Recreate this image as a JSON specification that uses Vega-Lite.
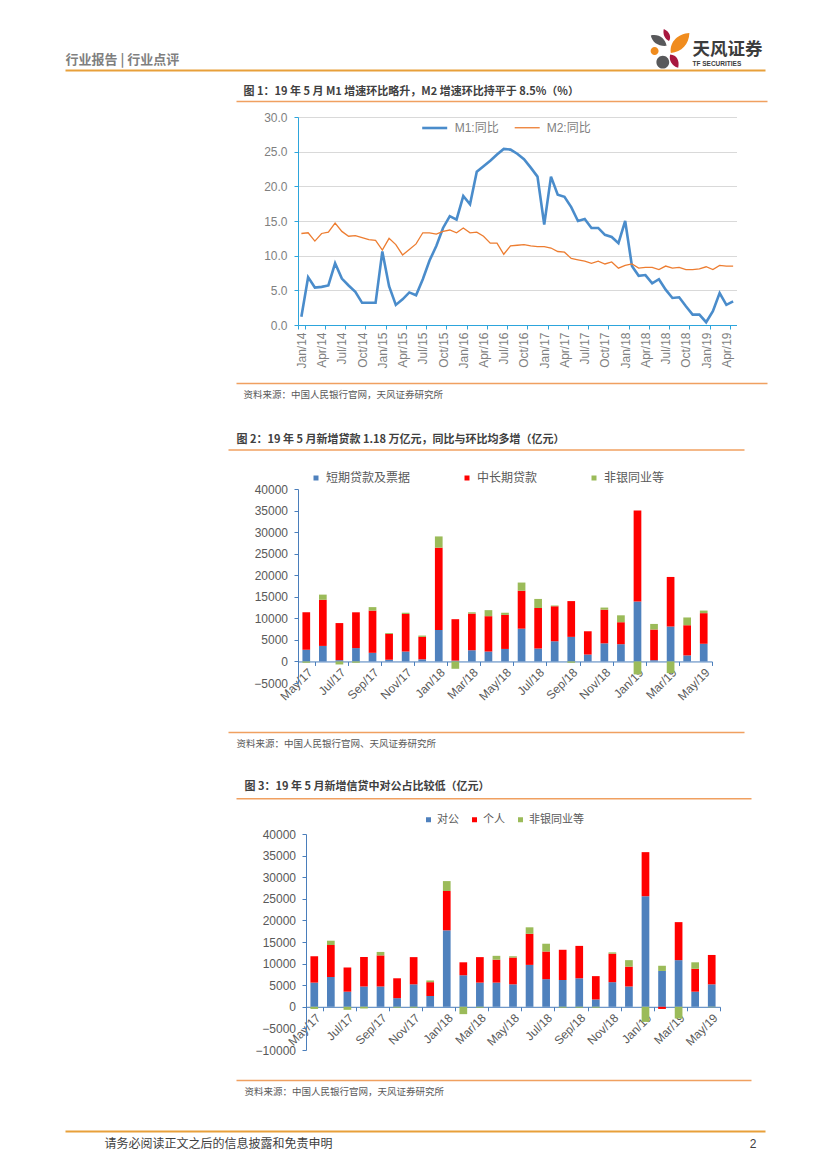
{
  "$schema": "https://vega.github.io/schema/vega-lite/v6.json",
  "background": "white",
  "padding": {"left": 65, "top": 28, "right": 10, "bottom": 10},
  "spacing": 0,
  "bounds": "flush",
  "resolve": {
    "scale": {"color": "independent", "strokeWidth": "independent"},
    "legend": {"color": "independent", "strokeWidth": "independent"}
  },
  "config": {
    "view": {"stroke": null},
    "axis": {"labelFont": "Liberation Sans", "titleFont": "Noto Sans CJK SC", "domainWidth": 1, "labelOverlap": false},
    "legend": {"labelFont": "Noto Sans CJK SC", "padding": 0}
  },
  "datasets": {
    "m": [
      {"m": "Jan/14", "s": "M1:同比", "v": 1.2}, {"m": "Feb/14", "s": "M1:同比", "v": 6.9}, {"m": "Mar/14", "s": "M1:同比", "v": 5.4}, {"m": "Apr/14", "s": "M1:同比", "v": 5.5}, {"m": "May/14", "s": "M1:同比", "v": 5.7}, {"m": "Jun/14", "s": "M1:同比", "v": 8.9}, {"m": "Jul/14", "s": "M1:同比", "v": 6.7}, {"m": "Aug/14", "s": "M1:同比", "v": 5.7}, {"m": "Sep/14", "s": "M1:同比", "v": 4.8}, {"m": "Oct/14", "s": "M1:同比", "v": 3.2}, {"m": "Nov/14", "s": "M1:同比", "v": 3.2}, {"m": "Dec/14", "s": "M1:同比", "v": 3.2},
      {"m": "Jan/15", "s": "M1:同比", "v": 10.6}, {"m": "Feb/15", "s": "M1:同比", "v": 5.6}, {"m": "Mar/15", "s": "M1:同比", "v": 2.9}, {"m": "Apr/15", "s": "M1:同比", "v": 3.7}, {"m": "May/15", "s": "M1:同比", "v": 4.7}, {"m": "Jun/15", "s": "M1:同比", "v": 4.3}, {"m": "Jul/15", "s": "M1:同比", "v": 6.6}, {"m": "Aug/15", "s": "M1:同比", "v": 9.3}, {"m": "Sep/15", "s": "M1:同比", "v": 11.4}, {"m": "Oct/15", "s": "M1:同比", "v": 14.0}, {"m": "Nov/15", "s": "M1:同比", "v": 15.7}, {"m": "Dec/15", "s": "M1:同比", "v": 15.2},
      {"m": "Jan/16", "s": "M1:同比", "v": 18.6}, {"m": "Feb/16", "s": "M1:同比", "v": 17.4}, {"m": "Mar/16", "s": "M1:同比", "v": 22.1}, {"m": "Apr/16", "s": "M1:同比", "v": 22.9}, {"m": "May/16", "s": "M1:同比", "v": 23.7}, {"m": "Jun/16", "s": "M1:同比", "v": 24.6}, {"m": "Jul/16", "s": "M1:同比", "v": 25.4}, {"m": "Aug/16", "s": "M1:同比", "v": 25.3}, {"m": "Sep/16", "s": "M1:同比", "v": 24.7}, {"m": "Oct/16", "s": "M1:同比", "v": 23.9}, {"m": "Nov/16", "s": "M1:同比", "v": 22.7}, {"m": "Dec/16", "s": "M1:同比", "v": 21.4},
      {"m": "Jan/17", "s": "M1:同比", "v": 14.5}, {"m": "Feb/17", "s": "M1:同比", "v": 21.4}, {"m": "Mar/17", "s": "M1:同比", "v": 18.8}, {"m": "Apr/17", "s": "M1:同比", "v": 18.5}, {"m": "May/17", "s": "M1:同比", "v": 17.0}, {"m": "Jun/17", "s": "M1:同比", "v": 15.0}, {"m": "Jul/17", "s": "M1:同比", "v": 15.3}, {"m": "Aug/17", "s": "M1:同比", "v": 14.0}, {"m": "Sep/17", "s": "M1:同比", "v": 14.0}, {"m": "Oct/17", "s": "M1:同比", "v": 13.0}, {"m": "Nov/17", "s": "M1:同比", "v": 12.7}, {"m": "Dec/17", "s": "M1:同比", "v": 11.8},
      {"m": "Jan/18", "s": "M1:同比", "v": 15.0}, {"m": "Feb/18", "s": "M1:同比", "v": 8.5}, {"m": "Mar/18", "s": "M1:同比", "v": 7.1}, {"m": "Apr/18", "s": "M1:同比", "v": 7.2}, {"m": "May/18", "s": "M1:同比", "v": 6.0}, {"m": "Jun/18", "s": "M1:同比", "v": 6.6}, {"m": "Jul/18", "s": "M1:同比", "v": 5.1}, {"m": "Aug/18", "s": "M1:同比", "v": 3.9}, {"m": "Sep/18", "s": "M1:同比", "v": 4.0}, {"m": "Oct/18", "s": "M1:同比", "v": 2.7}, {"m": "Nov/18", "s": "M1:同比", "v": 1.5}, {"m": "Dec/18", "s": "M1:同比", "v": 1.5},
      {"m": "Jan/19", "s": "M1:同比", "v": 0.4}, {"m": "Feb/19", "s": "M1:同比", "v": 2.0}, {"m": "Mar/19", "s": "M1:同比", "v": 4.6}, {"m": "Apr/19", "s": "M1:同比", "v": 2.9}, {"m": "May/19", "s": "M1:同比", "v": 3.4},
      {"m": "Jan/14", "s": "M2:同比", "v": 13.2}, {"m": "Feb/14", "s": "M2:同比", "v": 13.3}, {"m": "Mar/14", "s": "M2:同比", "v": 12.1}, {"m": "Apr/14", "s": "M2:同比", "v": 13.2}, {"m": "May/14", "s": "M2:同比", "v": 13.4}, {"m": "Jun/14", "s": "M2:同比", "v": 14.7}, {"m": "Jul/14", "s": "M2:同比", "v": 13.5}, {"m": "Aug/14", "s": "M2:同比", "v": 12.8}, {"m": "Sep/14", "s": "M2:同比", "v": 12.9}, {"m": "Oct/14", "s": "M2:同比", "v": 12.6}, {"m": "Nov/14", "s": "M2:同比", "v": 12.3}, {"m": "Dec/14", "s": "M2:同比", "v": 12.2},
      {"m": "Jan/15", "s": "M2:同比", "v": 10.8}, {"m": "Feb/15", "s": "M2:同比", "v": 12.5}, {"m": "Mar/15", "s": "M2:同比", "v": 11.6}, {"m": "Apr/15", "s": "M2:同比", "v": 10.1}, {"m": "May/15", "s": "M2:同比", "v": 10.9}, {"m": "Jun/15", "s": "M2:同比", "v": 11.7}, {"m": "Jul/15", "s": "M2:同比", "v": 13.3}, {"m": "Aug/15", "s": "M2:同比", "v": 13.3}, {"m": "Sep/15", "s": "M2:同比", "v": 13.1}, {"m": "Oct/15", "s": "M2:同比", "v": 13.5}, {"m": "Nov/15", "s": "M2:同比", "v": 13.7}, {"m": "Dec/15", "s": "M2:同比", "v": 13.3},
      {"m": "Jan/16", "s": "M2:同比", "v": 14.0}, {"m": "Feb/16", "s": "M2:同比", "v": 13.3}, {"m": "Mar/16", "s": "M2:同比", "v": 13.4}, {"m": "Apr/16", "s": "M2:同比", "v": 12.8}, {"m": "May/16", "s": "M2:同比", "v": 11.8}, {"m": "Jun/16", "s": "M2:同比", "v": 11.8}, {"m": "Jul/16", "s": "M2:同比", "v": 10.2}, {"m": "Aug/16", "s": "M2:同比", "v": 11.4}, {"m": "Sep/16", "s": "M2:同比", "v": 11.5}, {"m": "Oct/16", "s": "M2:同比", "v": 11.6}, {"m": "Nov/16", "s": "M2:同比", "v": 11.4}, {"m": "Dec/16", "s": "M2:同比", "v": 11.3},
      {"m": "Jan/17", "s": "M2:同比", "v": 11.3}, {"m": "Feb/17", "s": "M2:同比", "v": 11.1}, {"m": "Mar/17", "s": "M2:同比", "v": 10.6}, {"m": "Apr/17", "s": "M2:同比", "v": 10.5}, {"m": "May/17", "s": "M2:同比", "v": 9.6}, {"m": "Jun/17", "s": "M2:同比", "v": 9.4}, {"m": "Jul/17", "s": "M2:同比", "v": 9.2}, {"m": "Aug/17", "s": "M2:同比", "v": 8.9}, {"m": "Sep/17", "s": "M2:同比", "v": 9.2}, {"m": "Oct/17", "s": "M2:同比", "v": 8.8}, {"m": "Nov/17", "s": "M2:同比", "v": 9.1}, {"m": "Dec/17", "s": "M2:同比", "v": 8.2},
      {"m": "Jan/18", "s": "M2:同比", "v": 8.6}, {"m": "Feb/18", "s": "M2:同比", "v": 8.8}, {"m": "Mar/18", "s": "M2:同比", "v": 8.2}, {"m": "Apr/18", "s": "M2:同比", "v": 8.3}, {"m": "May/18", "s": "M2:同比", "v": 8.3}, {"m": "Jun/18", "s": "M2:同比", "v": 8.0}, {"m": "Jul/18", "s": "M2:同比", "v": 8.5}, {"m": "Aug/18", "s": "M2:同比", "v": 8.2}, {"m": "Sep/18", "s": "M2:同比", "v": 8.3}, {"m": "Oct/18", "s": "M2:同比", "v": 8.0}, {"m": "Nov/18", "s": "M2:同比", "v": 8.0}, {"m": "Dec/18", "s": "M2:同比", "v": 8.1},
      {"m": "Jan/19", "s": "M2:同比", "v": 8.4}, {"m": "Feb/19", "s": "M2:同比", "v": 8.0}, {"m": "Mar/19", "s": "M2:同比", "v": 8.6}, {"m": "Apr/19", "s": "M2:同比", "v": 8.5}, {"m": "May/19", "s": "M2:同比", "v": 8.5}
    ],
    "loans": [
      {"m": "May/17", "s": "短期贷款及票据", "v": 2700, "o": 1}, {"m": "May/17", "s": "中长期贷款", "v": 8700, "o": 2}, {"m": "May/17", "s": "非银同业等", "v": -300, "o": 3},
      {"m": "Jun/17", "s": "短期贷款及票据", "v": 3600, "o": 1}, {"m": "Jun/17", "s": "中长期贷款", "v": 10700, "o": 2}, {"m": "Jun/17", "s": "非银同业等", "v": 1200, "o": 3},
      {"m": "Jul/17", "s": "短期贷款及票据", "v": 300, "o": 1}, {"m": "Jul/17", "s": "中长期贷款", "v": 8600, "o": 2}, {"m": "Jul/17", "s": "非银同业等", "v": -700, "o": 3},
      {"m": "Aug/17", "s": "短期贷款及票据", "v": 3100, "o": 1}, {"m": "Aug/17", "s": "中长期贷款", "v": 8300, "o": 2}, {"m": "Aug/17", "s": "非银同业等", "v": -300, "o": 3},
      {"m": "Sep/17", "s": "短期贷款及票据", "v": 2000, "o": 1}, {"m": "Sep/17", "s": "中长期贷款", "v": 9800, "o": 2}, {"m": "Sep/17", "s": "非银同业等", "v": 800, "o": 3},
      {"m": "Oct/17", "s": "短期贷款及票据", "v": 400, "o": 1}, {"m": "Oct/17", "s": "中长期贷款", "v": 6000, "o": 2}, {"m": "Oct/17", "s": "非银同业等", "v": 200, "o": 3},
      {"m": "Nov/17", "s": "短期贷款及票据", "v": 2300, "o": 1}, {"m": "Nov/17", "s": "中长期贷款", "v": 8700, "o": 2}, {"m": "Nov/17", "s": "非银同业等", "v": 300, "o": 3},
      {"m": "Dec/17", "s": "短期贷款及票据", "v": 500, "o": 1}, {"m": "Dec/17", "s": "中长期贷款", "v": 5200, "o": 2}, {"m": "Dec/17", "s": "非银同业等", "v": 300, "o": 3},
      {"m": "Jan/18", "s": "短期贷款及票据", "v": 7300, "o": 1}, {"m": "Jan/18", "s": "中长期贷款", "v": 19100, "o": 2}, {"m": "Jan/18", "s": "非银同业等", "v": 2600, "o": 3},
      {"m": "Feb/18", "s": "短期贷款及票据", "v": 200, "o": 1}, {"m": "Feb/18", "s": "中长期贷款", "v": 9600, "o": 2}, {"m": "Feb/18", "s": "非银同业等", "v": -1700, "o": 3},
      {"m": "Mar/18", "s": "短期贷款及票据", "v": 2600, "o": 1}, {"m": "Mar/18", "s": "中长期贷款", "v": 8500, "o": 2}, {"m": "Mar/18", "s": "非银同业等", "v": 300, "o": 3},
      {"m": "Apr/18", "s": "短期贷款及票据", "v": 2300, "o": 1}, {"m": "Apr/18", "s": "中长期贷款", "v": 8200, "o": 2}, {"m": "Apr/18", "s": "非银同业等", "v": 1400, "o": 3},
      {"m": "May/18", "s": "短期贷款及票据", "v": 2900, "o": 1}, {"m": "May/18", "s": "中长期贷款", "v": 7900, "o": 2}, {"m": "May/18", "s": "非银同业等", "v": 500, "o": 3},
      {"m": "Jun/18", "s": "短期贷款及票据", "v": 7600, "o": 1}, {"m": "Jun/18", "s": "中长期贷款", "v": 8800, "o": 2}, {"m": "Jun/18", "s": "非银同业等", "v": 1900, "o": 3},
      {"m": "Jul/18", "s": "短期贷款及票据", "v": 3000, "o": 1}, {"m": "Jul/18", "s": "中长期贷款", "v": 9400, "o": 2}, {"m": "Jul/18", "s": "非银同业等", "v": 2100, "o": 3},
      {"m": "Aug/18", "s": "短期贷款及票据", "v": 4700, "o": 1}, {"m": "Aug/18", "s": "中长期贷款", "v": 8100, "o": 2}, {"m": "Aug/18", "s": "非银同业等", "v": 200, "o": 3},
      {"m": "Sep/18", "s": "短期贷款及票据", "v": 5700, "o": 1}, {"m": "Sep/18", "s": "中长期贷款", "v": 8300, "o": 2}, {"m": "Sep/18", "s": "非银同业等", "v": -300, "o": 3},
      {"m": "Oct/18", "s": "短期贷款及票据", "v": 1600, "o": 1}, {"m": "Oct/18", "s": "中长期贷款", "v": 5400, "o": 2}, {"m": "Oct/18", "s": "非银同业等", "v": 0, "o": 3},
      {"m": "Nov/18", "s": "短期贷款及票据", "v": 4200, "o": 1}, {"m": "Nov/18", "s": "中长期贷款", "v": 7800, "o": 2}, {"m": "Nov/18", "s": "非银同业等", "v": 500, "o": 3},
      {"m": "Dec/18", "s": "短期贷款及票据", "v": 4000, "o": 1}, {"m": "Dec/18", "s": "中长期贷款", "v": 5100, "o": 2}, {"m": "Dec/18", "s": "非银同业等", "v": 1600, "o": 3},
      {"m": "Jan/19", "s": "短期贷款及票据", "v": 13900, "o": 1}, {"m": "Jan/19", "s": "中长期贷款", "v": 21100, "o": 2}, {"m": "Jan/19", "s": "非银同业等", "v": -3000, "o": 3},
      {"m": "Feb/19", "s": "短期贷款及票据", "v": 300, "o": 1}, {"m": "Feb/19", "s": "中长期贷款", "v": 7100, "o": 2}, {"m": "Feb/19", "s": "非银同业等", "v": 1300, "o": 3},
      {"m": "Mar/19", "s": "短期贷款及票据", "v": 8100, "o": 1}, {"m": "Mar/19", "s": "中长期贷款", "v": 11500, "o": 2}, {"m": "Mar/19", "s": "非银同业等", "v": -2700, "o": 3},
      {"m": "Apr/19", "s": "短期贷款及票据", "v": 1400, "o": 1}, {"m": "Apr/19", "s": "中长期贷款", "v": 7000, "o": 2}, {"m": "Apr/19", "s": "非银同业等", "v": 1800, "o": 3},
      {"m": "May/19", "s": "短期贷款及票据", "v": 4100, "o": 1}, {"m": "May/19", "s": "中长期贷款", "v": 7100, "o": 2}, {"m": "May/19", "s": "非银同业等", "v": 600, "o": 3}
    ],
    "credit": [
      {"m": "May/17", "s": "对公", "v": 5600, "o": 1}, {"m": "May/17", "s": "个人", "v": 6100, "o": 2}, {"m": "May/17", "s": "非银同业等", "v": -500, "o": 3},
      {"m": "Jun/17", "s": "对公", "v": 6900, "o": 1}, {"m": "Jun/17", "s": "个人", "v": 7400, "o": 2}, {"m": "Jun/17", "s": "非银同业等", "v": 1000, "o": 3},
      {"m": "Jul/17", "s": "对公", "v": 3500, "o": 1}, {"m": "Jul/17", "s": "个人", "v": 5600, "o": 2}, {"m": "Jul/17", "s": "非银同业等", "v": -700, "o": 3},
      {"m": "Aug/17", "s": "对公", "v": 4700, "o": 1}, {"m": "Aug/17", "s": "个人", "v": 6800, "o": 2}, {"m": "Aug/17", "s": "非银同业等", "v": -400, "o": 3},
      {"m": "Sep/17", "s": "对公", "v": 4700, "o": 1}, {"m": "Sep/17", "s": "个人", "v": 7200, "o": 2}, {"m": "Sep/17", "s": "非银同业等", "v": 800, "o": 3},
      {"m": "Oct/17", "s": "对公", "v": 2000, "o": 1}, {"m": "Oct/17", "s": "个人", "v": 4600, "o": 2}, {"m": "Oct/17", "s": "非银同业等", "v": -200, "o": 3},
      {"m": "Nov/17", "s": "对公", "v": 5200, "o": 1}, {"m": "Nov/17", "s": "个人", "v": 6300, "o": 2}, {"m": "Nov/17", "s": "非银同业等", "v": -200, "o": 3},
      {"m": "Dec/17", "s": "对公", "v": 2500, "o": 1}, {"m": "Dec/17", "s": "个人", "v": 3200, "o": 2}, {"m": "Dec/17", "s": "非银同业等", "v": 400, "o": 3},
      {"m": "Jan/18", "s": "对公", "v": 17700, "o": 1}, {"m": "Jan/18", "s": "个人", "v": 9100, "o": 2}, {"m": "Jan/18", "s": "非银同业等", "v": 2300, "o": 3},
      {"m": "Feb/18", "s": "对公", "v": 7300, "o": 1}, {"m": "Feb/18", "s": "个人", "v": 3000, "o": 2}, {"m": "Feb/18", "s": "非银同业等", "v": -1700, "o": 3},
      {"m": "Mar/18", "s": "对公", "v": 5600, "o": 1}, {"m": "Mar/18", "s": "个人", "v": 5900, "o": 2}, {"m": "Mar/18", "s": "非银同业等", "v": -200, "o": 3},
      {"m": "Apr/18", "s": "对公", "v": 5600, "o": 1}, {"m": "Apr/18", "s": "个人", "v": 5300, "o": 2}, {"m": "Apr/18", "s": "非银同业等", "v": 900, "o": 3},
      {"m": "May/18", "s": "对公", "v": 5200, "o": 1}, {"m": "May/18", "s": "个人", "v": 6200, "o": 2}, {"m": "May/18", "s": "非银同业等", "v": 300, "o": 3},
      {"m": "Jun/18", "s": "对公", "v": 9700, "o": 1}, {"m": "Jun/18", "s": "个人", "v": 7200, "o": 2}, {"m": "Jun/18", "s": "非银同业等", "v": 1500, "o": 3},
      {"m": "Jul/18", "s": "对公", "v": 6400, "o": 1}, {"m": "Jul/18", "s": "个人", "v": 6400, "o": 2}, {"m": "Jul/18", "s": "非银同业等", "v": 1800, "o": 3},
      {"m": "Aug/18", "s": "对公", "v": 6200, "o": 1}, {"m": "Aug/18", "s": "个人", "v": 7000, "o": 2}, {"m": "Aug/18", "s": "非银同业等", "v": -200, "o": 3},
      {"m": "Sep/18", "s": "对公", "v": 6600, "o": 1}, {"m": "Sep/18", "s": "个人", "v": 7500, "o": 2}, {"m": "Sep/18", "s": "非银同业等", "v": -200, "o": 3},
      {"m": "Oct/18", "s": "对公", "v": 1700, "o": 1}, {"m": "Oct/18", "s": "个人", "v": 5400, "o": 2}, {"m": "Oct/18", "s": "非银同业等", "v": -200, "o": 3},
      {"m": "Nov/18", "s": "对公", "v": 5700, "o": 1}, {"m": "Nov/18", "s": "个人", "v": 6600, "o": 2}, {"m": "Nov/18", "s": "非银同业等", "v": 300, "o": 3},
      {"m": "Dec/18", "s": "对公", "v": 4700, "o": 1}, {"m": "Dec/18", "s": "个人", "v": 4600, "o": 2}, {"m": "Dec/18", "s": "非银同业等", "v": 1500, "o": 3},
      {"m": "Jan/19", "s": "对公", "v": 25600, "o": 1}, {"m": "Jan/19", "s": "个人", "v": 10200, "o": 2}, {"m": "Jan/19", "s": "非银同业等", "v": -3500, "o": 3},
      {"m": "Feb/19", "s": "对公", "v": 8300, "o": 1}, {"m": "Feb/19", "s": "个人", "v": -500, "o": 2}, {"m": "Feb/19", "s": "非银同业等", "v": 1200, "o": 3},
      {"m": "Mar/19", "s": "对公", "v": 10800, "o": 1}, {"m": "Mar/19", "s": "个人", "v": 8800, "o": 2}, {"m": "Mar/19", "s": "非银同业等", "v": -2700, "o": 3},
      {"m": "Apr/19", "s": "对公", "v": 3500, "o": 1}, {"m": "Apr/19", "s": "个人", "v": 5300, "o": 2}, {"m": "Apr/19", "s": "非银同业等", "v": 1500, "o": 3},
      {"m": "May/19", "s": "对公", "v": 5200, "o": 1}, {"m": "May/19", "s": "个人", "v": 6800, "o": 2}, {"m": "May/19", "s": "非银同业等", "v": -100, "o": 3}
    ]
  },
  "vconcat": [
    {
      "width": 438, "height": 42,
      "data": {"values": [{}]},
      "layer": [
        {
          "mark": {"type": "point", "shape": "M-0.95,-0.68 C-0.55,-0.78 -0.22,-0.52 -0.16,-0.16 C-0.55,-0.12 -0.88,-0.33 -0.95,-0.68 Z M-0.67,0.66 A0.32,0.32 0 1,0 -0.03,0.66 A0.32,0.32 0 1,0 -0.67,0.66 Z", "size": 1600, "filled": true, "color": "#58595B", "strokeWidth": 0, "opacity": 1},
          "encoding": {
            "x": {"datum": 0.864, "type": "quantitative", "scale": {"domain": [0, 1], "range": [-233, 467]},
              "axis": {"orient": "bottom", "domain": false, "ticks": false, "grid": false, "values": [0.8957], "labelExpr": "'TF SECURITIES'", "labelAlign": "left", "labelBaseline": "middle", "labelPadding": -6.5, "labelFontSize": 6.5, "labelFontWeight": "bold", "labelColor": "#3c3c3c", "labelFont": "Liberation Sans", "labelFlush": false,
                "title": "天风证券", "titleX": 394, "titleY": -20.5, "titleAlign": "left", "titleBaseline": "middle", "titleFontSize": 17.5, "titleFontWeight": "bold", "titleColor": "#3c3c3c", "titleFont": "Noto Sans CJK SC"}}
          }
        },
        {
          "mark": {"type": "point", "shape": "M0.05,0.2 C-0.02,-0.4 0.45,-0.76 0.98,-0.8 C0.96,-0.25 0.6,0.16 0.05,0.2 Z M-0.96,0.1 A0.2,0.2 0 1,0 -0.56,0.1 A0.2,0.2 0 1,0 -0.96,0.1 Z", "size": 1600, "filled": true, "color": "#F08C1E", "strokeWidth": 0, "opacity": 1},
          "encoding": {"x": {"datum": 0.864, "type": "quantitative"}}
        },
        {
          "mark": {"type": "point", "shape": "M-0.3,-1 C0.02,-0.86 0.08,-0.56 -0.04,-0.4 C-0.26,-0.5 -0.36,-0.76 -0.3,-1 Z M0.02,0.28 C0.36,0.3 0.5,0.6 0.42,0.94 C0.1,0.86 -0.06,0.56 0.02,0.28 Z", "size": 1600, "filled": true, "color": "#A8173F", "strokeWidth": 0, "opacity": 1},
          "encoding": {"x": {"datum": 0.864, "type": "quantitative"}}
        }
      ]
    },
    {
      "width": 438, "height": 31,
      "data": {"values": [{}]},
      "mark": {"type": "point", "opacity": 0},
      "encoding": {
        "x": {"datum": 0.5, "type": "quantitative", "scale": {"domain": [0, 1], "range": [-233, 467]},
          "axis": {"orient": "top", "domainColor": "#E8A03A", "domainWidth": 2, "ticks": false, "labels": false, "grid": false,
            "title": "行业报告 | 行业点评", "titleX": -233, "titleY": -11, "titleAlign": "left", "titleBaseline": "middle", "titleFontSize": 13, "titleFontWeight": "bold", "titleColor": "#7F7F7F"}}
      }
    },
    {
      "width": 438, "height": 16,
      "data": {"values": [{}]},
      "mark": {"type": "point", "opacity": 0},
      "encoding": {
        "x": {"datum": 0.5, "type": "quantitative", "scale": {"domain": [0, 1], "range": [-62, 469]},
          "axis": {"orient": "top", "domainColor": "#F0A060", "domainWidth": 1.5, "ticks": false, "labels": false, "grid": false,
            "title": "图 1：19 年 5 月 M1 增速环比略升，M2 增速环比持平于 8.5%（%）", "titleX": -55, "titleY": -9.3, "titleAlign": "left", "titleBaseline": "middle", "titleFontSize": 11, "titleFontWeight": "bold", "titleColor": "#404040"}}
      }
    },
    {
      "width": 438.5, "height": 208,
      "data": {"name": "m"},
      "mark": {"type": "line"},
      "encoding": {
        "x": {"field": "m", "type": "ordinal", "sort": null, "bandPosition": 0.5,
          "scale": {"type": "band", "paddingInner": 0, "paddingOuter": 0},
          "axis": {"values": ["Jan/14", "Apr/14", "Jul/14", "Oct/14", "Jan/15", "Apr/15", "Jul/15", "Oct/15", "Jan/16", "Apr/16", "Jul/16", "Oct/16", "Jan/17", "Apr/17", "Jul/17", "Oct/17", "Jan/18", "Apr/18", "Jul/18", "Oct/18", "Jan/19", "Apr/19"],
            "labelAngle": 270, "labelFontSize": 12, "labelColor": "#7F7F7F", "labelPadding": 3, "tickBand": "extent", "tickSize": 4, "tickColor": "#2DA5DC", "domainColor": "#2DA5DC", "title": null, "grid": false}},
        "y": {"field": "v", "type": "quantitative", "scale": {"domain": [0, 30], "nice": false},
          "axis": {"values": [0, 5, 10, 15, 20, 25, 30], "format": ".1f", "grid": true, "gridColor": "#D9D9D9", "domainColor": "#2DA5DC", "tickColor": "#2DA5DC", "tickSize": 4, "labelPadding": 7, "labelFontSize": 12, "labelColor": "#7F7F7F", "title": null}},
        "color": {"field": "s", "type": "nominal", "scale": {"domain": ["M1:同比", "M2:同比"], "range": ["#4A8CCB", "#ED7D31"]},
          "legend": {"orient": "none", "legendX": 122.7, "legendY": -3, "direction": "horizontal", "title": null, "symbolType": "stroke", "symbolSize": 625, "symbolStrokeWidth": 2, "labelFontSize": 12, "labelColor": "#7F7F7F", "labelOffset": 6, "columnPadding": 12, "labelFont": "Liberation Sans, Noto Sans CJK SC"}},
        "strokeWidth": {"field": "s", "type": "ordinal", "scale": {"domain": ["M1:同比", "M2:同比"], "range": [2.6, 1.3]}, "legend": null}
      }
    },
    {
      "width": 438, "height": 58,
      "data": {"values": [{}]},
      "mark": {"type": "point", "opacity": 0},
      "encoding": {
        "x": {"datum": 0.5, "type": "quantitative", "scale": {"domain": [0, 1], "range": [-62, 469]},
          "axis": {"orient": "bottom", "domainColor": "#F0A060", "domainWidth": 1.5, "ticks": false, "labels": false, "grid": false,
            "title": "资料来源：中国人民银行官网，天风证券研究所", "titleX": -55, "titleY": 11.3, "titleAlign": "left", "titleBaseline": "middle", "titleFontSize": 9.5, "titleFontWeight": "normal", "titleColor": "#595959"}}
      }
    },
    {
      "width": 438, "height": 106,
      "data": {"values": [{}]},
      "mark": {"type": "point", "opacity": 0},
      "encoding": {
        "x": {"datum": 0.5, "type": "quantitative", "scale": {"domain": [0, 1], "range": [-70, 446]},
          "axis": {"orient": "bottom", "offset": -39.5, "domainColor": "#F0A060", "domainWidth": 1.5, "ticks": false, "labels": false, "grid": false,
            "title": "图 2：19 年 5 月新增贷款 1.18 万亿元，同比与环比均多增（亿元）", "titleX": -62, "titleY": -10.5, "titleAlign": "left", "titleBaseline": "middle", "titleFontSize": 11, "titleFontWeight": "bold", "titleColor": "#404040"}}
      }
    },
    {
      "width": 414, "height": 194,
      "data": {"name": "loans"},
      "mark": {"type": "bar", "width": {"band": 0.465}},
      "encoding": {
        "x": {"field": "m", "type": "ordinal", "sort": null,
          "scale": {"type": "band", "paddingInner": 0, "paddingOuter": 0},
          "axis": {"values": ["May/17", "Jul/17", "Sep/17", "Nov/17", "Jan/18", "Mar/18", "May/18", "Jul/18", "Sep/18", "Nov/18", "Jan/19", "Mar/19", "May/19"],
            "labelAngle": -45, "labelFontSize": 12, "labelColor": "#595959", "labelPadding": 1, "tickBand": "extent", "tickSize": 4, "tickColor": "#4A7EBB", "domainColor": "#4A7EBB", "offset": -21.56, "title": null, "grid": false}},
        "y": {"field": "v", "type": "quantitative", "stack": "zero", "scale": {"domain": [-5000, 40000], "nice": false},
          "axis": {"values": [-5000, 0, 5000, 10000, 15000, 20000, 25000, 30000, 35000, 40000], "format": "d", "grid": false, "domainColor": "#4A7EBB", "tickColor": "#4A7EBB", "tickSize": 4, "labelPadding": 6.5, "labelFontSize": 12, "labelColor": "#595959", "title": null}},
        "color": {"field": "s", "type": "nominal", "scale": {"domain": ["短期贷款及票据", "中长期贷款", "非银同业等"], "range": ["#4F81BD", "#FF0000", "#9BBB59"]},
          "legend": {"orient": "none", "legendX": 12, "legendY": -17, "direction": "horizontal", "title": null, "symbolType": "square", "symbolSize": 25, "labelFontSize": 12, "labelColor": "#595959", "labelOffset": 4, "columnPadding": 50}},
        "order": {"field": "o", "type": "quantitative"}
      }
    },
    {
      "width": 414, "height": 49,
      "data": {"values": [{}]},
      "mark": {"type": "point", "opacity": 0},
      "encoding": {
        "x": {"datum": 0.5, "type": "quantitative", "scale": {"domain": [0, 1], "range": [-70, 446]},
          "axis": {"orient": "bottom", "domainColor": "#F0A060", "domainWidth": 1.5, "ticks": false, "labels": false, "grid": false,
            "title": "资料来源：中国人民银行官网、天风证券研究所", "titleX": -62, "titleY": 11.3, "titleAlign": "left", "titleBaseline": "middle", "titleFontSize": 9.5, "titleFontWeight": "normal", "titleColor": "#595959"}}
      }
    },
    {
      "width": 414, "height": 102,
      "data": {"values": [{}]},
      "mark": {"type": "point", "opacity": 0},
      "encoding": {
        "x": {"datum": 0.5, "type": "quantitative", "scale": {"domain": [0, 1], "range": [-62, 453]},
          "axis": {"orient": "bottom", "offset": -35.7, "domainColor": "#F0A060", "domainWidth": 1.5, "ticks": false, "labels": false, "grid": false,
            "title": "图 3：19 年 5 月新增信贷中对公占比较低（亿元）", "titleX": -54, "titleY": -11.6, "titleAlign": "left", "titleBaseline": "middle", "titleFontSize": 11, "titleFontWeight": "bold", "titleColor": "#404040"}}
      }
    },
    {
      "width": 422, "height": 216,
      "data": {"name": "credit"},
      "mark": {"type": "bar", "width": {"band": 0.465}},
      "encoding": {
        "x": {"field": "m", "type": "ordinal", "sort": null,
          "scale": {"type": "band", "paddingInner": 0, "paddingOuter": 0, "range": [8, 422]},
          "axis": {"values": ["May/17", "Jul/17", "Sep/17", "Nov/17", "Jan/18", "Mar/18", "May/18", "Jul/18", "Sep/18", "Nov/18", "Jan/19", "Mar/19", "May/19"],
            "labelAngle": -45, "labelFontSize": 12, "labelColor": "#595959", "labelPadding": 1, "tickBand": "extent", "tickSize": 4, "tickColor": "#4A7EBB", "domainColor": "#4A7EBB", "offset": -43.2, "title": null, "grid": false}},
        "y": {"field": "v", "type": "quantitative", "stack": "zero", "scale": {"domain": [-10000, 40000], "nice": false},
          "axis": {"values": [-10000, -5000, 0, 5000, 10000, 15000, 20000, 25000, 30000, 35000, 40000], "format": "d", "offset": -8, "grid": false, "domainColor": "#4A7EBB", "tickColor": "#4A7EBB", "tickSize": 4, "labelPadding": 6.5, "labelFontSize": 12, "labelColor": "#595959", "title": null}},
        "color": {"field": "s", "type": "nominal", "scale": {"domain": ["对公", "个人", "非银同业等"], "range": ["#4F81BD", "#FF0000", "#9BBB59"]},
          "legend": {"orient": "none", "legendX": 125, "legendY": -20, "direction": "horizontal", "title": null, "symbolType": "square", "symbolSize": 25, "labelFontSize": 11, "labelColor": "#595959", "labelOffset": 3, "columnPadding": 10}},
        "order": {"field": "o", "type": "quantitative"}
      }
    },
    {
      "width": 422, "height": 30,
      "data": {"values": [{}]},
      "mark": {"type": "point", "opacity": 0},
      "encoding": {
        "x": {"datum": 0.5, "type": "quantitative", "scale": {"domain": [0, 1], "range": [-62, 453]},
          "axis": {"orient": "bottom", "domainColor": "#F0A060", "domainWidth": 1.5, "ticks": false, "labels": false, "grid": false,
            "title": "资料来源：中国人民银行官网，天风证券研究所", "titleX": -54, "titleY": 11, "titleAlign": "left", "titleBaseline": "middle", "titleFontSize": 9.5, "titleFontWeight": "normal", "titleColor": "#595959"}}
      }
    },
    {
      "width": 422, "height": 51,
      "data": {"values": [{}]},
      "mark": {"type": "point", "opacity": 0},
      "encoding": {
        "x": {"datum": 0.5, "type": "quantitative", "scale": {"domain": [0, 1], "range": [-233, 467]},
          "axis": {"orient": "bottom", "domainColor": "#E8A03A", "domainWidth": 2, "ticks": false, "tickSize": 0, "grid": false,
            "values": [0.9871], "labelExpr": "'2'", "labelAlign": "right", "labelBaseline": "middle", "labelPadding": 12, "labelFontSize": 12, "labelColor": "#404040", "labelFlush": false,
            "title": "请务必阅读正文之后的信息披露和免责申明", "titleX": -194, "titleY": 12, "titleAlign": "left", "titleBaseline": "middle", "titleFontSize": 12, "titleFontWeight": "normal", "titleColor": "#404040"}}
      }
    }
  ]
}
